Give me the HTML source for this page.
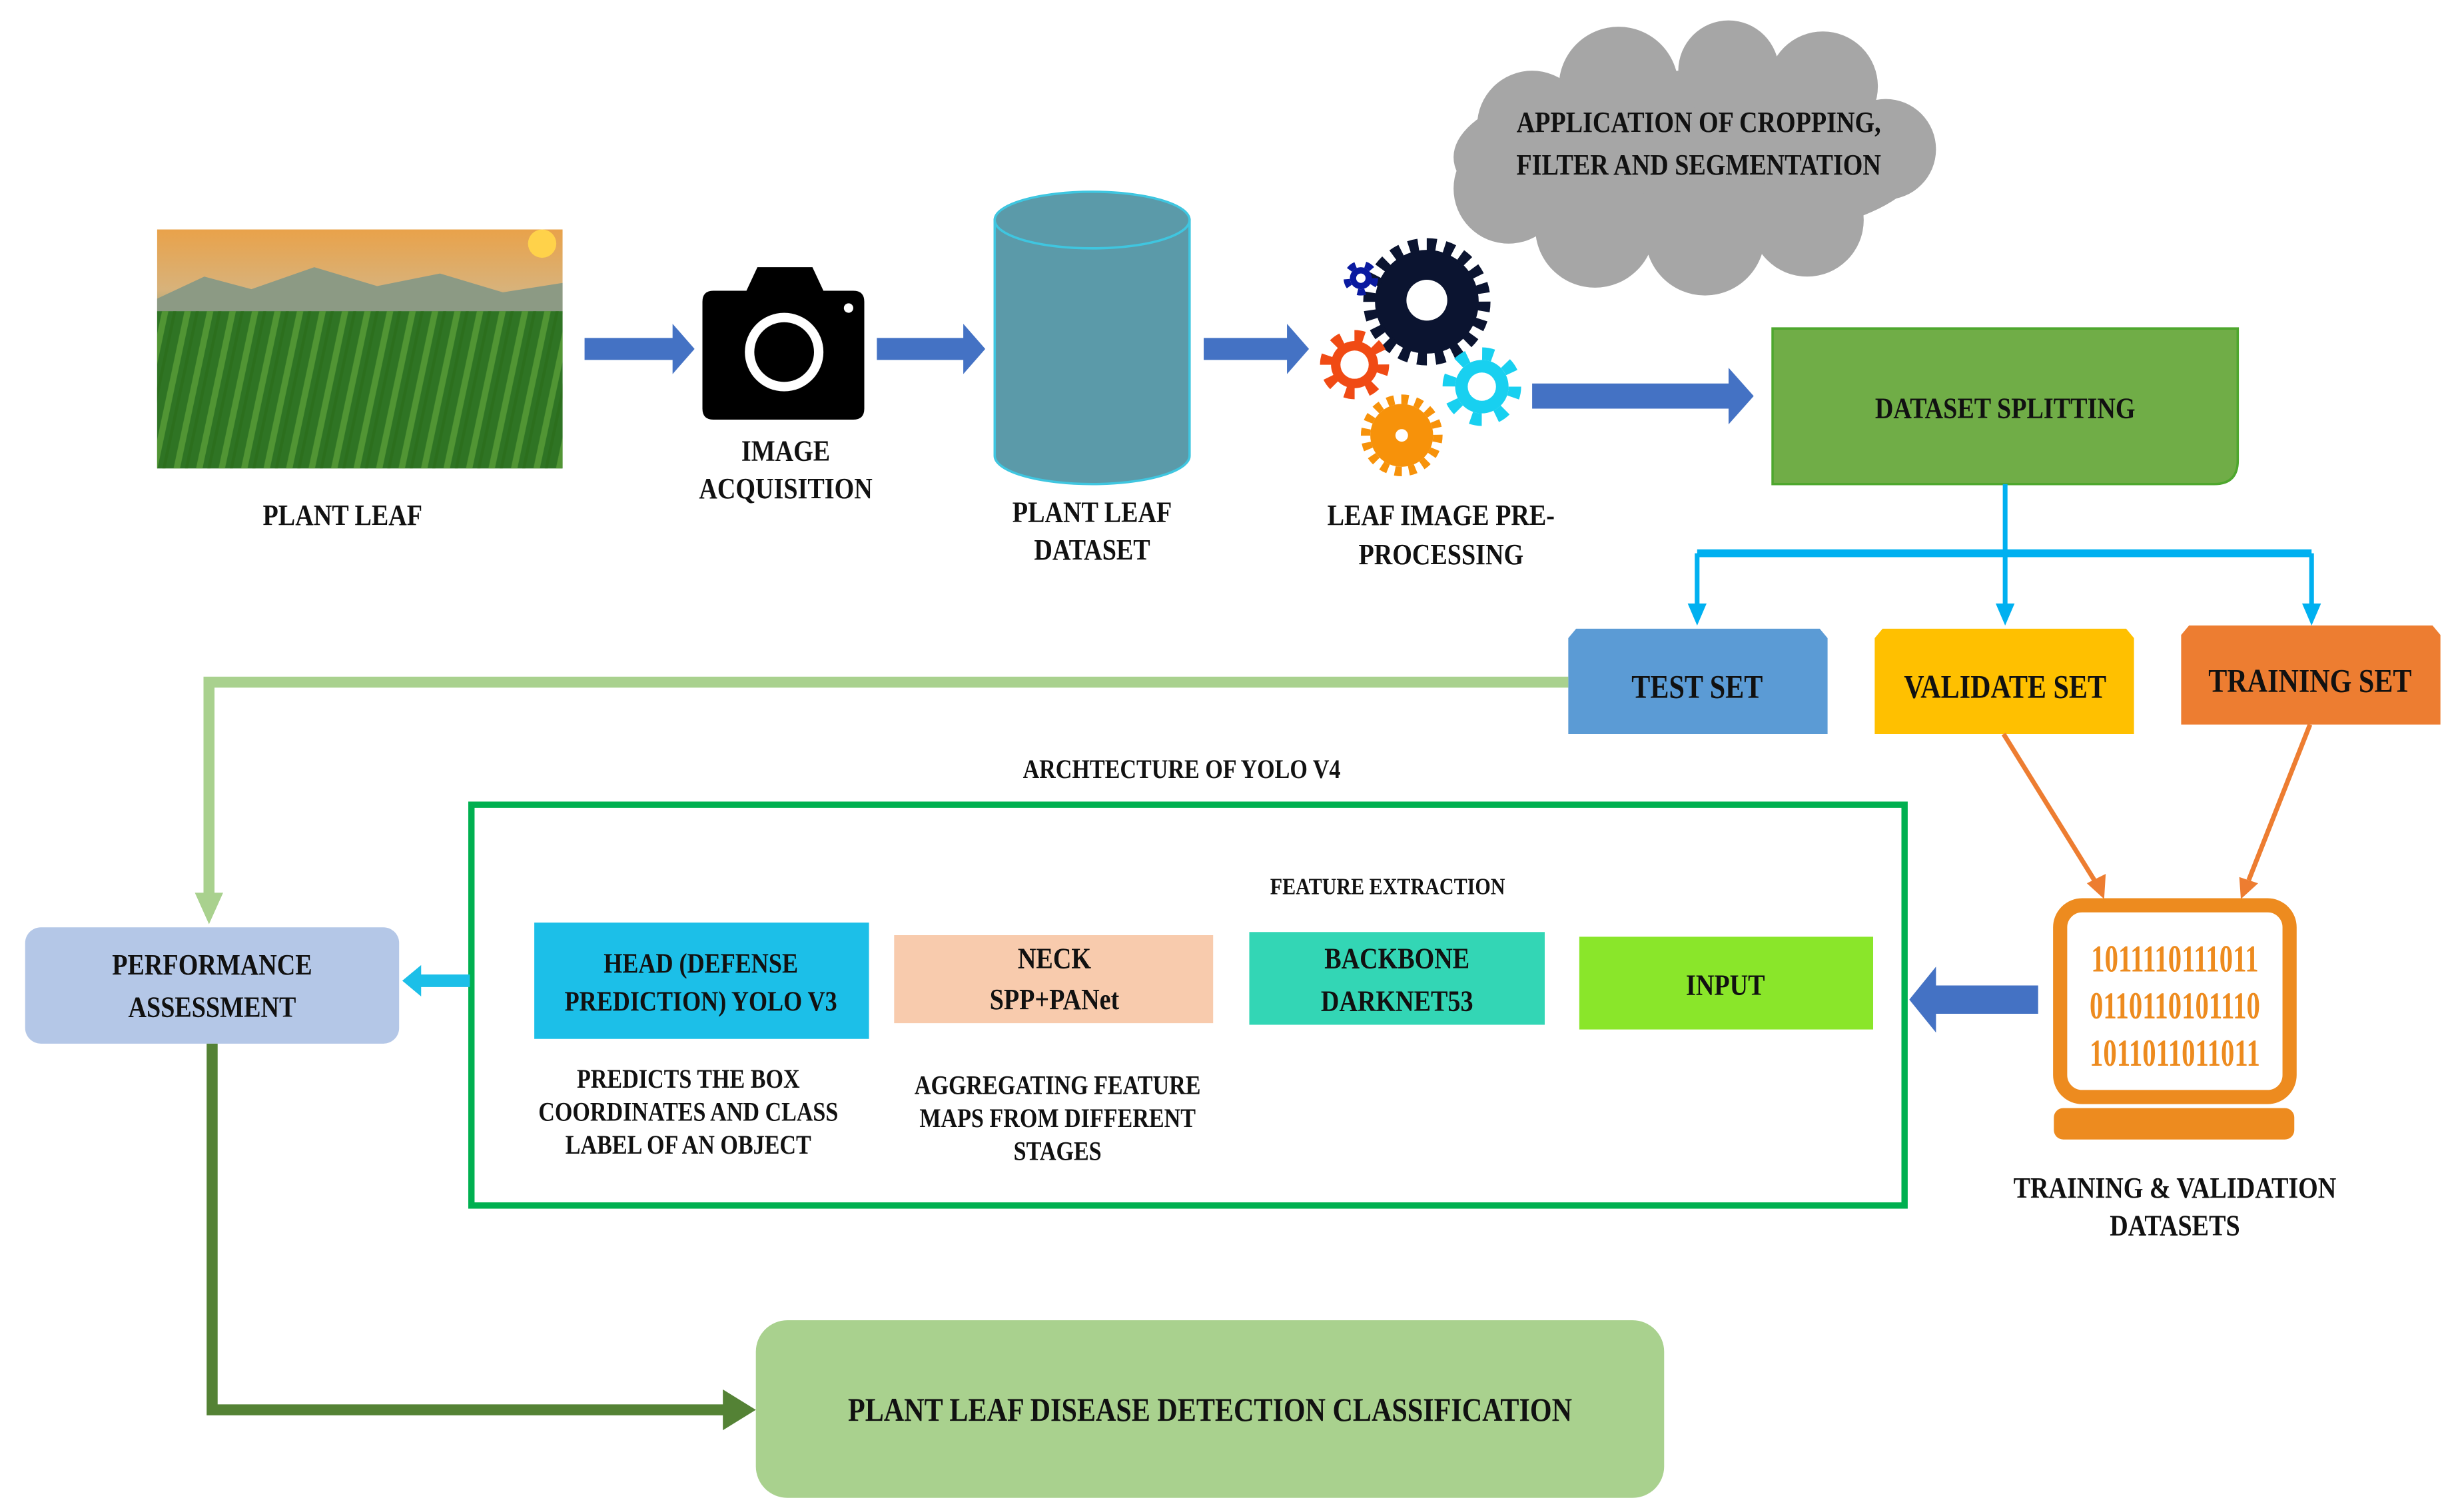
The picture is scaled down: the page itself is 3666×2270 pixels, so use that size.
<!DOCTYPE html>
<html><head><meta charset="utf-8"><style>
html,body{margin:0;padding:0;background:#fff;}
svg{display:block;}
text{font-family:"Liberation Serif",serif;font-weight:bold;fill:#111;}
</style></head><body>
<svg width="3666" height="2270" viewBox="0 0 1554 962" preserveAspectRatio="none" xmlns="http://www.w3.org/2000/svg">
<defs>
<linearGradient id="sky" x1="0" y1="0" x2="0" y2="1">
<stop offset="0" stop-color="#e9a24a"/><stop offset="0.25" stop-color="#d8b27a"/><stop offset="0.4" stop-color="#8aa07a"/><stop offset="0.55" stop-color="#3f7d2a"/><stop offset="1" stop-color="#1f5a18"/>
</linearGradient>
<pattern id="leaves" width="14" height="40" patternUnits="userSpaceOnUse" patternTransform="rotate(12)">
<rect width="14" height="40" fill="none"/><rect x="2" width="4" height="40" fill="#5fa33a" opacity="0.7"/><rect x="9" width="2" height="40" fill="#2c6e1c" opacity="0.8"/>
</pattern>
</defs>

<!-- plant photo -->
<rect x="100" y="146" width="258" height="152" fill="url(#sky)"/>
<circle cx="345" cy="155" r="9" fill="#ffd24a"/>
<path d="M100 190 L130 176 L160 184 L200 170 L240 182 L280 174 L320 186 L358 180 L358 200 L100 200Z" fill="#8c9a84"/>
<rect x="100" y="198" width="258" height="100" fill="#2f7424"/>
<rect x="100" y="198" width="258" height="100" fill="url(#leaves)"/>
<text transform="translate(218,334) scale(0.85,1)" text-anchor="middle" font-size="19">PLANT LEAF</text>

<!-- blue arrows -->
<g fill="#4472c4">
<path d="M372 215 H428 V206 L442 222 L428 238 V229 H372Z"/>
<path d="M558 215 H613 V206 L627 222 L613 238 V229 H558Z"/>
<path d="M766 215 H819 V206 L833 222 L819 238 V229 H766Z"/>
<path d="M975 244 H1100 V234 L1116 252 L1100 270 V260 H975Z"/>
<path d="M1297 627 H1232 V615 L1215 636 L1232 657 V645 H1297Z"/>
</g>

<!-- camera -->
<path d="M447 192 Q447 185 454 185 H475 L482 170 H517 L524 185 H543 Q550 185 550 192 V260 Q550 267 543 267 H454 Q447 267 447 260Z" fill="#000"/>
<circle cx="499" cy="224" r="25" fill="#fff"/><circle cx="499" cy="224" r="19" fill="#000"/>
<circle cx="540" cy="196" r="3" fill="#fff"/>
<text transform="translate(500,293) scale(0.85,1)" text-anchor="middle" font-size="19">IMAGE</text>
<text transform="translate(500,317) scale(0.85,1)" text-anchor="middle" font-size="19">ACQUISITION</text>

<!-- cylinder -->
<path d="M633 140 V290 A62 18 0 0 0 757 290 V140Z" fill="#5b9aa9" stroke="#3fc6e0" stroke-width="1.5"/>
<ellipse cx="695" cy="140" rx="62" ry="18" fill="#5b9aa9" stroke="#3fc6e0" stroke-width="1.5"/>
<text transform="translate(695,332) scale(0.85,1)" text-anchor="middle" font-size="19">PLANT LEAF</text>
<text transform="translate(695,356) scale(0.85,1)" text-anchor="middle" font-size="19">DATASET</text>

<!-- gears -->
<g>
<circle cx="908" cy="192" r="33" fill="#0b1430"/><circle cx="908" cy="192" r="36" fill="none" stroke="#0b1430" stroke-width="9" stroke-dasharray="6 5.3"/><circle cx="908" cy="191" r="13" fill="#fff"/>
<circle cx="866" cy="177" r="7" fill="#0a1aa0"/><circle cx="866" cy="177" r="9" fill="none" stroke="#0a1aa0" stroke-width="4" stroke-dasharray="5 6.3"/><circle cx="866" cy="177" r="3" fill="#fff"/>
<circle cx="862" cy="232" r="15" fill="#f04a14"/><circle cx="862" cy="232" r="18" fill="none" stroke="#f04a14" stroke-width="8" stroke-dasharray="6 8.1"/><circle cx="862" cy="232" r="9" fill="#fff"/>
<circle cx="943" cy="246" r="17" fill="#18d0f0"/><circle cx="943" cy="246" r="21" fill="none" stroke="#18d0f0" stroke-width="8" stroke-dasharray="7 9.5"/><circle cx="943" cy="246" r="9" fill="#fff"/>
<circle cx="892" cy="277" r="20" fill="#f7920a"/><circle cx="892" cy="277" r="23" fill="none" stroke="#f7920a" stroke-width="6" stroke-dasharray="4.5 4.5"/><circle cx="892" cy="277" r="4" fill="#fff"/>
</g>
<text transform="translate(917,334) scale(0.85,1)" text-anchor="middle" font-size="19">LEAF IMAGE PRE-</text>
<text transform="translate(917,359) scale(0.85,1)" text-anchor="middle" font-size="19">PROCESSING</text>

<!-- cloud -->
<g fill="#a6a6a6">
<ellipse cx="1075" cy="100" rx="150" ry="55"/>
<circle cx="975" cy="80" r="35"/><circle cx="1030" cy="55" r="38"/><circle cx="1100" cy="45" r="32"/><circle cx="1160" cy="55" r="35"/><circle cx="1200" cy="95" r="32"/>
<circle cx="960" cy="120" r="35"/><circle cx="1015" cy="145" r="38"/><circle cx="1085" cy="150" r="38"/><circle cx="1150" cy="140" r="36"/>
</g>
<text transform="translate(1081,84) scale(0.85,1)" text-anchor="middle" font-size="19">APPLICATION OF CROPPING,</text>
<text transform="translate(1081,111) scale(0.85,1)" text-anchor="middle" font-size="19">FILTER AND SEGMENTATION</text>

<!-- dataset splitting -->
<path d="M1128 209 H1424 V293 Q1424 308 1409 308 H1128Z" fill="#70ad47" stroke="#4ea72e" stroke-width="1.5"/>
<text transform="translate(1276,266) scale(0.85,1)" text-anchor="middle" font-size="19">DATASET SPLITTING</text>

<!-- cyan splitter -->
<g stroke="#00b0f0" fill="none">
<line x1="1276" y1="308" x2="1276" y2="388" stroke-width="3"/>
<line x1="1080" y1="352" x2="1471" y2="352" stroke-width="5"/>
<line x1="1080" y1="352" x2="1080" y2="388" stroke-width="3"/>
<line x1="1471" y1="352" x2="1471" y2="388" stroke-width="3"/>
</g>
<g fill="#00b0f0">
<path d="M1074 384 L1086 384 L1080 398Z"/><path d="M1270 384 L1282 384 L1276 398Z"/><path d="M1465 384 L1477 384 L1471 398Z"/>
</g>

<!-- sets -->
<path d="M1003 400 H1158 L1163 406 V467 H998 V406Z" fill="#5b9bd5"/>
<text transform="translate(1080,444) scale(0.85,1)" text-anchor="middle" font-size="21">TEST SET</text>
<path d="M1198 400 H1353 L1358 406 V467 H1193 V406Z" fill="#ffc000"/>
<text transform="translate(1276,444) scale(0.85,1)" text-anchor="middle" font-size="21">VALIDATE SET</text>
<path d="M1393 398 H1548 L1553 404 V461 H1388 V404Z" fill="#ed7d31"/>
<text transform="translate(1470,440) scale(0.85,1)" text-anchor="middle" font-size="21">TRAINING SET</text>

<!-- light green line -->
<path d="M998 434 H133 V575" fill="none" stroke="#a9d18e" stroke-width="7"/>
<path d="M124 568 L142 568 L133 588Z" fill="#a9d18e"/>

<!-- architecture -->
<text transform="translate(752,495) scale(0.85,1)" text-anchor="middle" font-size="17">ARCHTECTURE OF YOLO V4</text>
<rect x="300" y="512" width="912" height="255" fill="none" stroke="#00b050" stroke-width="4"/>
<text transform="translate(883,569) scale(0.85,1)" text-anchor="middle" font-size="15">FEATURE EXTRACTION</text>

<rect x="340" y="587" width="213" height="74" fill="#1cbfe8"/>
<text transform="translate(446,619) scale(0.85,1)" text-anchor="middle" font-size="18">HEAD (DEFENSE</text>
<text transform="translate(446,643) scale(0.85,1)" text-anchor="middle" font-size="18">PREDICTION) YOLO V3</text>
<rect x="569" y="595" width="203" height="56" fill="#f8cbad"/>
<text transform="translate(671,616) scale(0.85,1)" text-anchor="middle" font-size="19">NECK</text>
<text transform="translate(671,642) scale(0.85,1)" text-anchor="middle" font-size="19">SPP+PANet</text>
<rect x="795" y="593" width="188" height="59" fill="#33d6b5"/>
<text transform="translate(889,616) scale(0.85,1)" text-anchor="middle" font-size="19">BACKBONE</text>
<text transform="translate(889,643) scale(0.85,1)" text-anchor="middle" font-size="19">DARKNET53</text>
<rect x="1005" y="596" width="187" height="59" fill="#8ae62a"/>
<text transform="translate(1098,633) scale(0.85,1)" text-anchor="middle" font-size="19">INPUT</text>

<text transform="translate(438,692) scale(0.85,1)" text-anchor="middle" font-size="17">PREDICTS THE BOX</text>
<text transform="translate(438,713) scale(0.85,1)" text-anchor="middle" font-size="17">COORDINATES AND CLASS</text>
<text transform="translate(438,734) scale(0.85,1)" text-anchor="middle" font-size="17">LABEL OF AN OBJECT</text>
<text transform="translate(673,696) scale(0.85,1)" text-anchor="middle" font-size="17">AGGREGATING FEATURE</text>
<text transform="translate(673,717) scale(0.85,1)" text-anchor="middle" font-size="17">MAPS FROM DIFFERENT</text>
<text transform="translate(673,738) scale(0.85,1)" text-anchor="middle" font-size="17">STAGES</text>

<!-- performance -->
<rect x="16" y="590" width="238" height="74" rx="10" fill="#b4c7e7"/>
<text transform="translate(135,620) scale(0.85,1)" text-anchor="middle" font-size="19">PERFORMANCE</text>
<text transform="translate(135,647) scale(0.85,1)" text-anchor="middle" font-size="19">ASSESSMENT</text>
<path d="M299 620 H268 V614 L256 624 L268 634 V628 H299Z" fill="#1cbfe8"/>

<!-- orange arrows -->
<g stroke="#ed7d31" stroke-width="3">
<line x1="1275" y1="467" x2="1334" y2="562"/><line x1="1470" y1="461" x2="1431" y2="560"/>
</g>
<g fill="#ed7d31"><path d="M1328 562 L1340 556 L1339 572Z"/><path d="M1425 558 L1437 562 L1426 572Z"/></g>

<!-- laptop -->
<rect x="1311" y="576" width="146" height="122" rx="14" fill="#fff" stroke="#ed8b1f" stroke-width="9"/>
<rect x="1307" y="705" width="153" height="20" rx="6" fill="#ed8b1f"/>
<g fill="#ed8b1f" font-size="24">
<text transform="translate(1384,618) scale(0.72,1)" text-anchor="middle" style="fill:#ed8b1f">1011110111011</text>
<text transform="translate(1384,648) scale(0.72,1)" text-anchor="middle" style="fill:#ed8b1f">0110110101110</text>
<text transform="translate(1384,678) scale(0.72,1)" text-anchor="middle" style="fill:#ed8b1f">1011011011011</text>
</g>
<text transform="translate(1384,762) scale(0.85,1)" text-anchor="middle" font-size="19">TRAINING &amp; VALIDATION</text>
<text transform="translate(1384,786) scale(0.85,1)" text-anchor="middle" font-size="19">DATASETS</text>

<!-- dark green line -->
<path d="M135 664 V897 H466" fill="none" stroke="#548235" stroke-width="7"/>
<path d="M460 884 L481 897 L460 910Z" fill="#548235"/>

<!-- final -->
<rect x="481" y="840" width="578" height="113" rx="20" fill="#a9d18e"/>
<text transform="translate(770,904) scale(0.85,1)" text-anchor="middle" font-size="21">PLANT LEAF DISEASE DETECTION CLASSIFICATION</text>
</svg>
</body></html>
